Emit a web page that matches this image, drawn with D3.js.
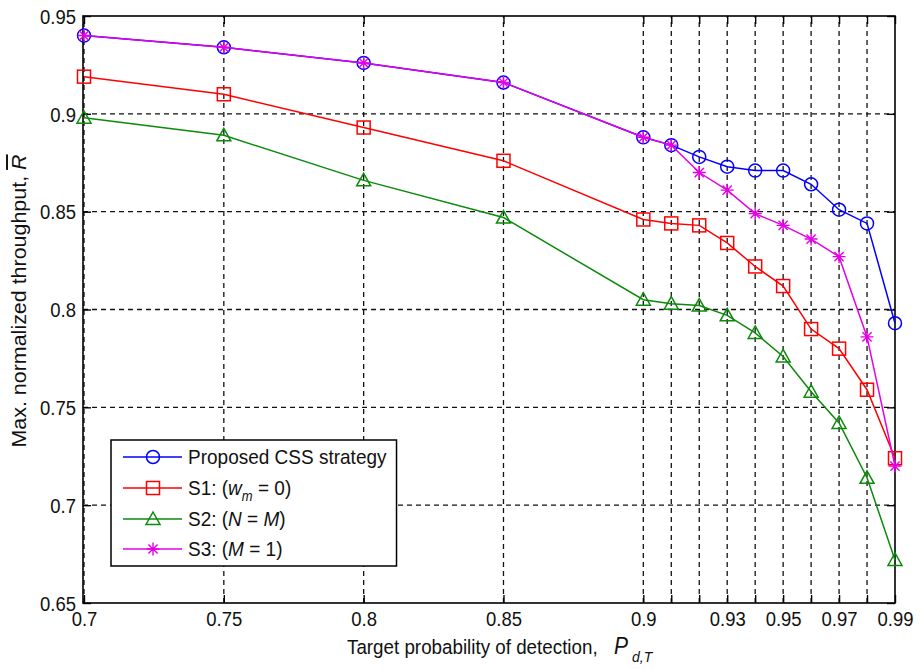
<!DOCTYPE html>
<html>
<head>
<meta charset="utf-8">
<script src="https://cdn.jsdelivr.net/npm/d3@7"></script>
<style>
  html, body { margin: 0; padding: 0; background: #fff; }
  svg { display: block; font-family: "Liberation Sans", Arial, sans-serif; }
</style>
</head>
<body>
<svg id="chart" width="920" height="669"></svg>
<script>
// Target probability of detection (x values)
const pd = [0.70, 0.75, 0.80, 0.85, 0.90, 0.91, 0.92, 0.93, 0.94, 0.95, 0.96, 0.97, 0.98, 0.99];

// Max. normalized throughput for each strategy
const proposed = [0.940, 0.934, 0.926, 0.916, 0.888, 0.884, 0.878, 0.873, 0.871, 0.871, 0.864, 0.851, 0.844, 0.793];
const s1       = [0.919, 0.910, 0.893, 0.876, 0.846, 0.844, 0.843, 0.834, 0.822, 0.812, 0.790, 0.780, 0.759, 0.724];
const s2       = [0.898, 0.889, 0.866, 0.847, 0.805, 0.803, 0.802, 0.797, 0.788, 0.776, 0.758, 0.742, 0.714, 0.672];
const s3       = [0.940, 0.934, 0.926, 0.916, 0.888, 0.884, 0.870, 0.861, 0.849, 0.843, 0.836, 0.827, 0.786, 0.720];

// Axis ticks
const xTickValues = [0.70, 0.75, 0.80, 0.85, 0.90, 0.91, 0.92, 0.93, 0.94, 0.95, 0.96, 0.97, 0.98, 0.99];
const xTickLabels = ["0.7", "0.75", "0.8", "0.85", "0.9", "", "", "0.93", "", "0.95", "", "0.97", "", "0.99"];
const yTickValues = [0.65, 0.70, 0.75, 0.80, 0.85, 0.90, 0.95];
const yTickLabels = ["0.65", "0.7", "0.75", "0.8", "0.85", "0.9", "0.95"];

const seriesNames = ["Proposed CSS strategy", "S1", "S2", "S3"];
const seriesColors = ["#0000ff", "#ff0000", "#0b8a0b", "#e600e6"];
const seriesMarkers = ["circle", "square", "triangle", "star"];
const seriesValues = [proposed, s1, s2, s3];

// ---- layout ----
const plot = { left: 83, right: 895, top: 16, bottom: 603 };
const FONT = 18.5;
const STRETCH = 1.1;   // glyphs are drawn slightly taller than wide

const svg = d3.select("#chart");

const x = d3.scaleLinear().domain([0.70, 0.99]).range([plot.left + 1, plot.right]);
const y = d3.scaleLinear().domain([0.65, 0.95]).range([plot.bottom, plot.top]);

// ---- grid ----
const grid = svg.append("g")
  .attr("stroke", "#111")
  .attr("stroke-width", 1.3)
  .attr("stroke-dasharray", "5,4");

grid.selectAll("line.vx")
  .data(xTickValues.filter(v => v < 0.985))
  .join("line")
  .attr("x1", d => x(d)).attr("x2", d => x(d))
  .attr("y1", plot.bottom).attr("y2", plot.top);

grid.selectAll("line.hy")
  .data(yTickValues.filter(v => v > 0.66 && v < 0.94))
  .join("line")
  .attr("x1", plot.left).attr("x2", plot.right)
  .attr("y1", d => y(d)).attr("y2", d => y(d));

// ---- axes (ticks point inward on all four sides) ----
function styleAxis(g) {
  g.attr("font-family", "'Liberation Sans', Arial, sans-serif")
   .attr("font-size", FONT);
  g.select(".domain").remove();
  g.selectAll(".tick line").attr("stroke", "#000").attr("stroke-width", 1.4);
  g.selectAll(".tick text").attr("fill", "#111");
}

const xAxisG = svg.append("g")
  .attr("transform", `translate(0,${plot.bottom})`)
  .call(d3.axisBottom(x).tickValues(xTickValues)
    .tickFormat((d, i) => xTickLabels[i])
    .tickSizeInner(-8).tickSizeOuter(0).tickPadding(10))
  .call(styleAxis);
// taller glyphs, baseline kept ~23px under the axis
xAxisG.selectAll(".tick text")
  .attr("y", 0).attr("dy", 0)
  .attr("transform", `translate(0,23) scale(1,${STRETCH})`);

svg.append("g")
  .attr("transform", `translate(0,${plot.top})`)
  .call(d3.axisTop(x).tickValues(xTickValues).tickFormat("")
    .tickSizeInner(-8).tickSizeOuter(0))
  .call(styleAxis);

const yAxisG = svg.append("g")
  .attr("transform", `translate(${plot.left},0)`)
  .call(d3.axisLeft(y).tickValues(yTickValues)
    .tickFormat((d, i) => yTickLabels[i])
    .tickSizeInner(-8).tickSizeOuter(0).tickPadding(7))
  .call(styleAxis);
yAxisG.selectAll(".tick text")
  .attr("y", 0).attr("dy", 0)
  .attr("transform", `translate(0,${0.36 * FONT * STRETCH}) scale(1,${STRETCH})`);

svg.append("g")
  .attr("transform", `translate(${plot.right},0)`)
  .call(d3.axisRight(y).tickValues(yTickValues).tickFormat("")
    .tickSizeInner(-8).tickSizeOuter(0))
  .call(styleAxis);

// frame
svg.append("rect")
  .attr("x", plot.left).attr("y", plot.top)
  .attr("width", plot.right - plot.left).attr("height", plot.bottom - plot.top)
  .attr("fill", "none").attr("stroke", "#000").attr("stroke-width", 1.6);

// ---- markers ----
function drawMarker(g, type, color) {
  if (type === "circle") {
    g.append("circle").attr("r", 6.5)
      .attr("fill", "none").attr("stroke", color).attr("stroke-width", 1.5);
  } else if (type === "square") {
    g.append("rect").attr("x", -6.5).attr("y", -6.5).attr("width", 13).attr("height", 13)
      .attr("fill", "none").attr("stroke", color).attr("stroke-width", 1.5);
  } else if (type === "triangle") {
    g.append("path").attr("d", "M0,-7L7,5.5L-7,5.5Z")
      .attr("fill", "none").attr("stroke", color).attr("stroke-width", 1.5);
  } else if (type === "star") {
    const r = 6.5, q = 4.6;
    g.append("path")
      .attr("d", `M${-r},0L${r},0M0,${-r}L0,${r}M${-q},${-q}L${q},${q}M${-q},${q}L${q},${-q}`)
      .attr("fill", "none").attr("stroke", color).attr("stroke-width", 1.4);
  }
}

// ---- series ----
const line = d3.line().x(d => x(d[0])).y(d => y(d[1]));

seriesValues.forEach((vals, si) => {
  const pts = pd.map((p, i) => [p, vals[i]]);
  const g = svg.append("g");
  g.append("path")
    .attr("d", line(pts))
    .attr("fill", "none")
    .attr("stroke", seriesColors[si])
    .attr("stroke-width", 1.5);
  g.selectAll("g.mk")
    .data(pts)
    .join("g")
    .attr("transform", d => `translate(${x(d[0])},${y(d[1])})`)
    .each(function () { drawMarker(d3.select(this), seriesMarkers[si], seriesColors[si]); });
});

// ---- axis titles ----
const xt = svg.append("text")
  .attr("transform", `translate(0,654) scale(1,${STRETCH})`)
  .attr("font-size", FONT + 0.3)
  .attr("fill", "#111");
xt.append("tspan").attr("x", 347).text("Target probability of detection,");
xt.append("tspan").attr("x", 614).attr("font-style", "italic").attr("font-size", 21).text("P");
xt.append("tspan").attr("x", 632).attr("dy", 7).attr("font-style", "italic").attr("font-size", 14).text("d,T");

const yt = svg.append("text")
  .attr("transform", `translate(26,301) scale(1,${STRETCH}) rotate(-90)`)
  .attr("text-anchor", "middle")
  .attr("font-size", 19.5)
  .attr("fill", "#111");
yt.append("tspan").text("Max. normalized throughput, ");
yt.append("tspan").attr("font-style", "italic")
  .style("text-decoration", "overline").text("R");

// ---- legend ----
const legend = svg.append("g");
const box = legend.append("rect")
  .attr("x", 111).attr("y", 440).attr("height", 126)
  .attr("fill", "#fff").attr("stroke", "#000").attr("stroke-width", 1.5);

const legendRows = [457, 488, 519, 549];
const labelGroup = legend.append("g");

seriesNames.forEach((name, si) => {
  const ry = legendRows[si];
  legend.append("line")
    .attr("x1", 123).attr("x2", 182).attr("y1", ry).attr("y2", ry)
    .attr("stroke", seriesColors[si]).attr("stroke-width", 1.5);
  const mg = legend.append("g").attr("transform", `translate(153,${ry})`);
  drawMarker(mg, seriesMarkers[si], seriesColors[si]);

  const t = labelGroup.append("text")
    .attr("transform", `translate(188,${ry + 7}) scale(1,${STRETCH})`)
    .attr("font-size", 19).attr("fill", "#111");
  if (si === 0) {
    t.text(name);
  } else if (si === 1) {
    t.append("tspan").text("S1: (");
    t.append("tspan").attr("font-style", "italic").text("w");
    t.append("tspan").attr("font-style", "italic").attr("font-size", 13).attr("dy", 5).text("m");
    t.append("tspan").attr("dy", -5).text(" = 0)");
  } else if (si === 2) {
    t.append("tspan").text("S2: (");
    t.append("tspan").attr("font-style", "italic").text("N");
    t.append("tspan").text(" = ");
    t.append("tspan").attr("font-style", "italic").text("M");
    t.append("tspan").text(")");
  } else {
    t.append("tspan").text("S3: (");
    t.append("tspan").attr("font-style", "italic").text("M");
    t.append("tspan").text(" = 1)");
  }
});

const bb = labelGroup.node().getBBox();
box.attr("width", bb.x + bb.width + 10 - 111);
</script>
</body>
</html>
